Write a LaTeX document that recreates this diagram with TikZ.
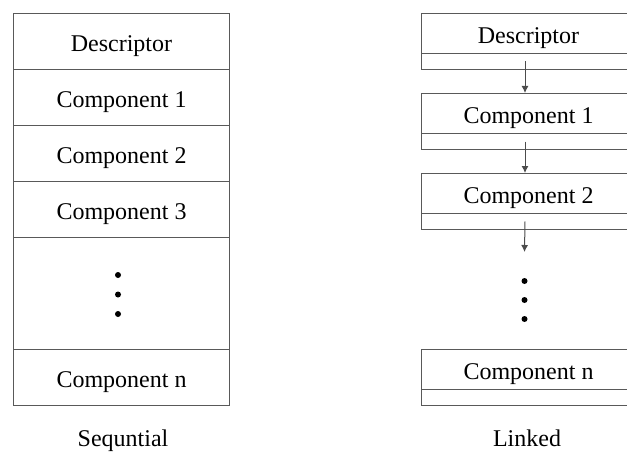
\documentclass[tikz,border=0pt]{standalone}
\usepackage{fontspec}
\setmainfont{Liberation Serif}
\usetikzlibrary{arrows.meta}
\begin{document}
\begin{tikzpicture}[x=1pt,y=-1pt,
  txt/.style={font=\fontsize{24}{28}\selectfont},
  ctxt/.style={txt, text height=20pt, text depth=0pt},
  box/.style={draw=black!65, line width=1pt, minimum width=216pt, minimum height=56pt, inner sep=0pt, anchor=north west, ctxt},
  lbox/.style={draw=black!65, line width=1pt, minimum width=214pt, minimum height=40pt, inner sep=0pt, anchor=north west, ctxt},
  ptr/.style={draw=black!65, line width=1pt, minimum width=214pt, minimum height=16pt, inner sep=0pt, anchor=north west},
  arr/.style={draw=black!70, line width=1pt, -{Latex[length=7pt,width=7pt]}},
  dot/.style={fill=black}]
\useasboundingbox (0,0) rectangle (627,452);
% Sequential
\node[box] (d) at (13,13) {Descriptor};
\node[box] (c1) at (13,69) {Component 1};
\node[box] (c2) at (13,125) {Component 2};
\node[box] (c3) at (13,181) {Component 3};
\node[box, minimum height=112pt] (gap) at (13,237) {};
\node[box] (cn) at (13,349) {Component n};
\fill[dot] (118,275) circle (3pt);
\fill[dot] (118,294.5) circle (3pt);
\fill[dot] (118,314) circle (3pt);
\node[txt, anchor=base, inner sep=0pt] (seq) at (123,446) {Sequntial};
% Linked
\node[lbox] (rd) at (421,13) {Descriptor};
\node[ptr] (rdp) at (421,53) {};
\node[lbox] (r1) at (421,93) {Component 1};
\node[ptr] (r1p) at (421,133) {};
\node[lbox] (r2) at (421,173) {Component 2};
\node[ptr] (r2p) at (421,213) {};
\node[lbox] (rn) at (421,349) {Component n};
\node[ptr] (rnp) at (421,389) {};
\coordinate (rend) at (524.5,252);
\draw[arr] ([xshift=-3.5pt]rdp.center) -- ([xshift=-3.5pt]r1.north);
\draw[arr] ([xshift=-3.5pt]r1p.center) -- ([xshift=-3.5pt]r2.north);
\draw[arr] ([xshift=-3.5pt]r2p.center) -- (rend);
\fill[dot] (524.5,281) circle (3pt);
\fill[dot] (524.5,300) circle (3pt);
\fill[dot] (524.5,319) circle (3pt);
\node[txt, anchor=base, inner sep=0pt] (lnk) at (527,446) {Linked};
\end{tikzpicture}
\end{document}
